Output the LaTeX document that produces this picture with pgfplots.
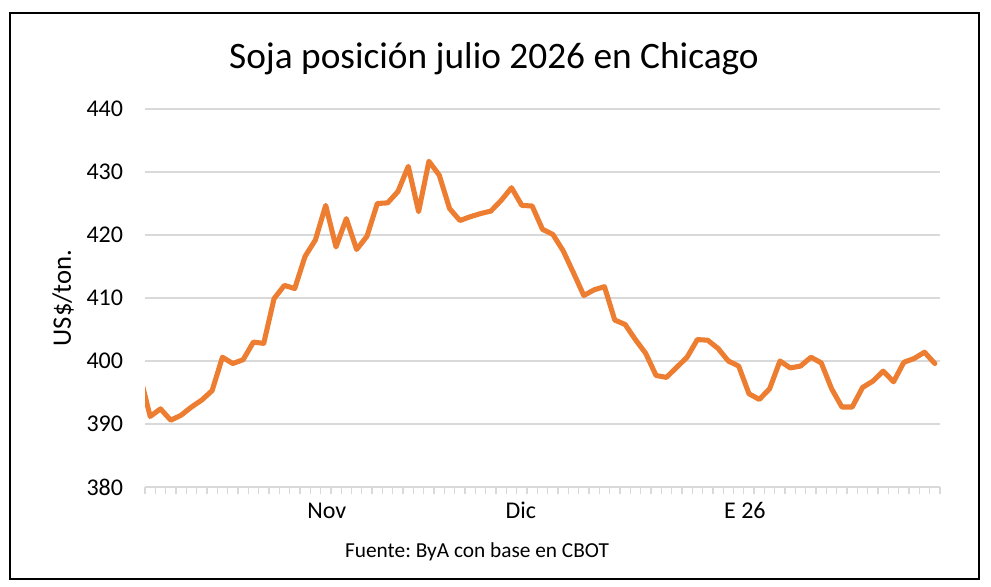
\documentclass[border=0pt]{standalone}
\usepackage{pgfplots}
\pgfplotsset{compat=1.18}
\usepackage{fontspec}
\setmainfont{Carlito}
\definecolor{orangeline}{HTML}{ED7D31}
\definecolor{gridgray}{HTML}{D9D9D9}
\begin{document}
\frenchspacing
\begin{tikzpicture}[x=0.75pt,y=0.75pt]
\useasboundingbox (0,0) rectangle (991,586);
\draw[line width=1.6pt,black] (10,573) rectangle (979,7);
\node[font=\fontsize{28}{32}\selectfont] at (494,527) {Soja posición julio 2026 en Chicago};
\node[font=\fontsize{20}{24}\selectfont, rotate=90] at (63,288) {US\$/ton.};
\node[font=\fontsize{16}{19}\selectfont] at (477,34) {Fuente: ByA con base en CBOT};
\begin{axis}[
  at={(108.75pt,74.25pt)}, anchor=south west,
  width=596.25pt, height=283.5pt, scale only axis,
  xmin=-0.5, xmax=76.5, ymin=380, ymax=440,
  ytick={380,390,...,440},
  /pgf/number format/assume math mode=true,
  ymajorgrids, major grid style={gridgray, line width=1.1pt},
  axis x line*=bottom, axis y line*=left,
  x axis line style={gridgray, line width=1.1pt, -},
  y axis line style={draw=none},
  ytick style={draw=none},
  xtick={17.1,35.9,57.6}, xticklabels={Nov,Dic,E 26},
  major x tick style={draw=none},
  minor xtick={-0.5,0.5,...,76.5},
  minor x tick style={gridgray, line width=1pt},
  minor tick length=5.5pt,
  tick align=outside,
  yticklabel style={font=\fontsize{18}{22}\selectfont, anchor=east, inner sep=0pt, xshift=-12pt},
  xticklabel style={font=\fontsize{18}{22}\selectfont, anchor=base, inner sep=0pt, yshift=-19.5pt},
  clip=true,
]
\addplot[orangeline, line width=3.8pt, line join=round, line cap=round] coordinates {
(-1,397.8) (0,391.2) (1,392.4) (2,390.6) (3,391.4) (4,392.7) (5,393.8) (6,395.3) (7,400.6) (8,399.6)
(9,400.2) (10,403.0) (11,402.8) (12,409.9) (13,412.0) (14,411.5) (15,416.6) (16,419.2) (17,424.7) (18,418.1)
(19,422.6) (20,417.7) (21,419.8) (22,425.0) (23,425.1) (24,426.9) (25,430.9) (26,423.7) (27,431.7) (28,429.5)
(29,424.2) (30,422.3) (31,422.9) (32,423.4) (33,423.8) (34,425.5) (35,427.5) (36,424.7) (37,424.6) (38,420.9)
(39,420.1) (40,417.5) (41,414.0) (42,410.4) (43,411.3) (44,411.8) (45,406.5) (46,405.8) (47,403.4) (48,401.2)
(49,397.7) (50,397.4) (51,399.0) (52,400.6) (53,403.4) (54,403.3) (55,402.0) (56,400.0) (57,399.2) (58,394.8)
(59,393.9) (60,395.6) (61,400.0) (62,398.9) (63,399.2) (64,400.6) (65,399.7) (66,395.6) (67,392.7) (68,392.7)
(69,395.8) (70,396.8) (71,398.4) (72,396.7) (73,399.8) (74,400.4) (75,401.4) (76,399.6)
};
\end{axis}
\end{tikzpicture}
\end{document}
